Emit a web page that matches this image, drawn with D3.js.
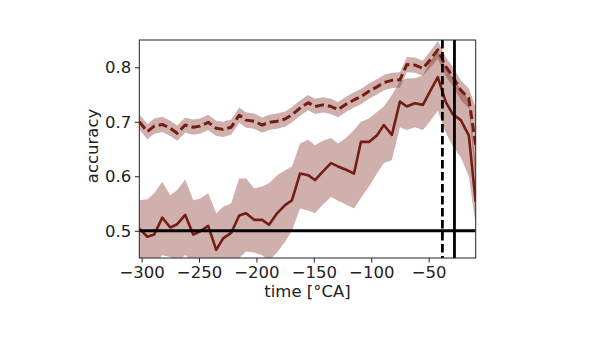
<!DOCTYPE html>
<html><head><meta charset="utf-8">
<script src="https://cdn.jsdelivr.net/npm/d3@7"></script>
<style>
html,body{margin:0;padding:0;background:#fff;}
svg{display:block;font-family:"DejaVu Sans",sans-serif;}
</style></head>
<body>
<script>
const times = [-302,-295,-289,-282,-275,-269,-262,-255,-249,-242,-235,-229,-222,-215,-209,-202,-195,-189,-182,-175,-169,-162,-155,-149,-142,-135,-129,-122,-115,-109,-102,-95,-89,-82,-75,-69,-62,-55,-49,-42,-35,-29,-22,-15,-9];
const solidMean = [0.504,0.489,0.493,0.524,0.506,0.512,0.529,0.493,0.499,0.509,0.465,0.486,0.496,0.528,0.532,0.520,0.520,0.511,0.532,0.547,0.556,0.605,0.602,0.593,0.609,0.624,0.618,0.612,0.605,0.663,0.663,0.675,0.694,0.676,0.737,0.728,0.734,0.731,0.755,0.782,0.736,0.714,0.703,0.675,0.553];
const solidUpper = [0.556,0.558,0.569,0.590,0.565,0.575,0.594,0.556,0.559,0.569,0.532,0.544,0.550,0.596,0.596,0.578,0.581,0.587,0.602,0.611,0.618,0.660,0.667,0.657,0.665,0.670,0.660,0.670,0.685,0.700,0.706,0.718,0.728,0.749,0.775,0.780,0.780,0.785,0.810,0.830,0.800,0.780,0.760,0.740,0.620];
const solidLower = [0.430,0.430,0.440,0.455,0.452,0.440,0.456,0.440,0.440,0.440,0.400,0.420,0.430,0.450,0.462,0.460,0.455,0.445,0.460,0.480,0.500,0.541,0.537,0.532,0.548,0.562,0.555,0.548,0.541,0.560,0.581,0.605,0.624,0.630,0.690,0.685,0.690,0.685,0.700,0.720,0.680,0.655,0.635,0.600,0.510];
const dashedMean = [0.700,0.682,0.692,0.695,0.688,0.679,0.694,0.690,0.692,0.699,0.688,0.686,0.690,0.712,0.703,0.701,0.694,0.699,0.701,0.705,0.713,0.725,0.735,0.728,0.731,0.728,0.722,0.732,0.740,0.746,0.756,0.764,0.772,0.776,0.777,0.805,0.804,0.798,0.813,0.832,0.801,0.783,0.758,0.743,0.657];
const dashedSpread = [0.014,0.014,0.014,0.014,0.014,0.014,0.014,0.014,0.014,0.014,0.014,0.014,0.014,0.014,0.014,0.014,0.014,0.014,0.014,0.014,0.014,0.014,0.014,0.014,0.014,0.014,0.014,0.014,0.014,0.014,0.014,0.014,0.014,0.014,0.014,0.014,0.014,0.014,0.015,0.016,0.018,0.018,0.018,0.018,0.070];
const xTicks = [-300,-250,-200,-150,-100,-50];
const yTicks = [0.5,0.6,0.7,0.8];
const chanceLevel = 0.5;
const dashedMarker = -38;
const solidMarker = -27.5;
const xLabel = "time [°CA]";
const yLabel = "accuracy";

const W = 600, H = 337;
const m = {left:139.3, right:600-475.7, top:40, bottom:337-258};
const svg = d3.select("body").append("svg").attr("width",W).attr("height",H);
const x = d3.scaleLinear().domain([-302,-9]).range([m.left, W-m.right]);
const y = d3.scaleLinear().domain([0.45,0.85]).range([H-m.bottom, m.top]);

svg.append("defs").append("clipPath").attr("id","clip")
  .append("rect").attr("x",m.left).attr("y",m.top)
  .attr("width",W-m.left-m.right).attr("height",H-m.top-m.bottom);

const g = svg.append("g").attr("clip-path","url(#clip)");
const lineColor = "#731e14";
const bandFill = "rgb(120,30,20)";
const idx = d3.range(times.length);

const area = (lo, hi) => d3.area().x(i=>x(times[i])).y0(i=>y(lo(i))).y1(i=>y(hi(i)));
g.append("path").attr("d", area(i=>dashedMean[i]-dashedSpread[i], i=>dashedMean[i]+dashedSpread[i])(idx))
  .attr("fill",bandFill).attr("fill-opacity",0.35);
g.append("path").attr("d", area(i=>solidLower[i], i=>solidUpper[i])(idx))
  .attr("fill",bandFill).attr("fill-opacity",0.35);

const line = arr => d3.line().x(i=>x(times[i])).y(i=>y(arr[i]));
g.append("path").attr("d", line(solidMean)(idx)).attr("fill","none")
  .attr("stroke",lineColor).attr("stroke-width",2.6).attr("stroke-linejoin","round");
g.append("path").attr("d", line(dashedMean)(idx)).attr("fill","none")
  .attr("stroke",lineColor).attr("stroke-width",3).attr("stroke-dasharray","9,4").attr("stroke-linejoin","round");

g.append("line").attr("x1",m.left).attr("x2",W-m.right).attr("y1",y(chanceLevel)).attr("y2",y(chanceLevel))
  .attr("stroke","#000").attr("stroke-width",2.8);
g.append("line").attr("x1",x(dashedMarker)).attr("x2",x(dashedMarker)).attr("y1",m.top).attr("y2",H-m.bottom)
  .attr("stroke","#000").attr("stroke-width",2.8).attr("stroke-dasharray","8.5,3.5");
g.append("line").attr("x1",x(solidMarker)).attr("x2",x(solidMarker)).attr("y1",m.top).attr("y2",H-m.bottom)
  .attr("stroke","#000").attr("stroke-width",2.8);

// frame
svg.append("rect").attr("x",m.left).attr("y",m.top).attr("width",W-m.left-m.right).attr("height",H-m.top-m.bottom)
  .attr("fill","none").attr("stroke","#222").attr("stroke-width",1);

const fmtX = d => (d<0?"\u2212":"")+Math.abs(d);
const xAxis = svg.append("g").attr("transform",`translate(0,${H-m.bottom})`)
  .call(d3.axisBottom(x).tickValues(xTicks).tickFormat(fmtX).tickSize(4.5).tickPadding(4));
const yAxis = svg.append("g").attr("transform",`translate(${m.left},0)`)
  .call(d3.axisLeft(y).tickValues(yTicks).tickFormat(d3.format(".1f")).tickSize(4.5).tickPadding(3.5));
[xAxis,yAxis].forEach(a=>{
  a.select(".domain").remove();
  a.selectAll("line").attr("stroke","#222").attr("stroke-width",1);
  a.selectAll("text").attr("fill","#222").style("font-size","16.5px").style("font-family","DejaVu Sans");
});

svg.append("text").attr("x",(m.left+W-m.right)/2).attr("y",296.5).attr("text-anchor","middle")
  .style("font-size","16.5px").attr("fill","#222").text(xLabel);
svg.append("text").attr("transform",`translate(98,146) rotate(-90)`).attr("text-anchor","middle")
  .style("font-size","16.5px").attr("fill","#222").text(yLabel);
</script>
</body></html>
